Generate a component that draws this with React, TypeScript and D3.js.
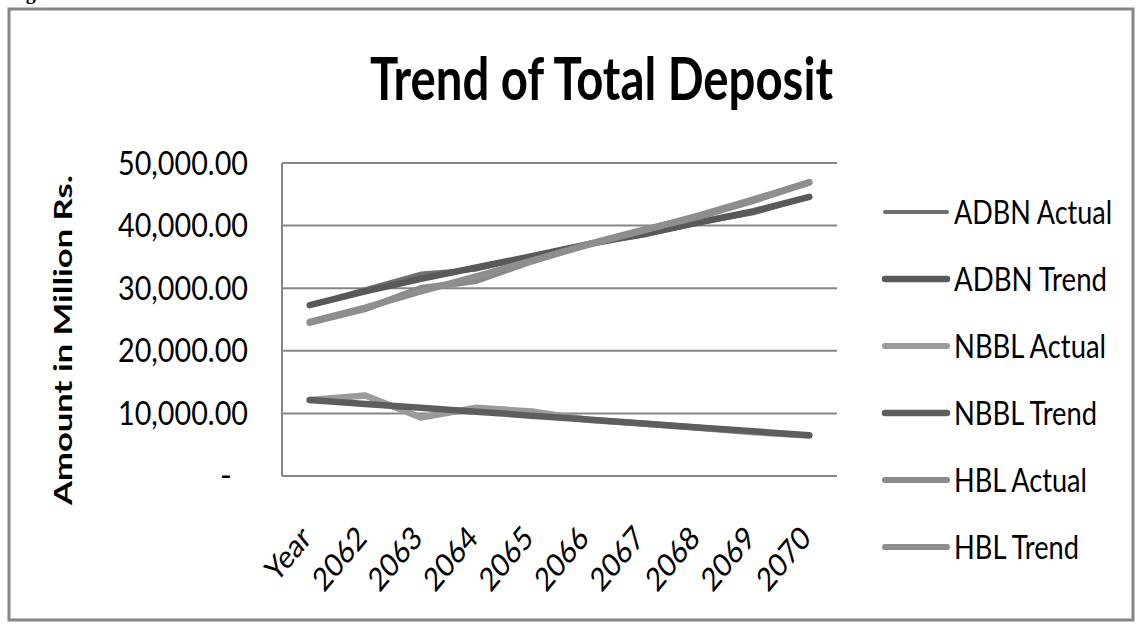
import React from "react";
import * as d3 from "d3";

const categories = ["Year", "2062", "2063", "2064", "2065", "2066", "2067", "2068", "2069", "2070"];
const adbnActual = [27300, 29800, 32300, 33000, 35100, 37100, 38400, 40400, 42000, 44600];
const adbnTrend = [27300, 29500, 31500, 33300, 35100, 37000, 38600, 40500, 42300, 44600];
const nbblActual = [12150, 12850, 9350, 10900, 10300, 9000, 8400, 7700, 7000, 6450];
const nbblTrend = [12150, 11520, 10890, 10270, 9640, 9010, 8380, 7760, 7130, 6500];
const hblActual = [24500, 26700, 30000, 31200, 34300, 37000, 39300, 41400, 44000, 46900];
const hblTrend = [24600, 26900, 29500, 31900, 34400, 36900, 39200, 41600, 44200, 46900];
const seriesNames = ["ADBN Actual", "ADBN Trend", "NBBL Actual", "NBBL Trend", "HBL Actual", "HBL Trend"];
const seriesValues = [adbnActual, adbnTrend, nbblActual, nbblTrend, hblActual, hblTrend];

const seriesStyle: Record<string, { color: string; width: number; legendWidth: number; textW: number }> = {
  "ADBN Actual": { color: "#6f6f6f", width: 4.5, legendWidth: 4, textW: 158 },
  "ADBN Trend": { color: "#595959", width: 6.5, legendWidth: 6.5, textW: 153 },
  "NBBL Actual": { color: "#9b9b9b", width: 6.5, legendWidth: 6, textW: 152 },
  "NBBL Trend": { color: "#5e5e5e", width: 6.5, legendWidth: 6.5, textW: 143 },
  "HBL Actual": { color: "#8a8a8a", width: 6.5, legendWidth: 6, textW: 133 },
  "HBL Trend": { color: "#8e8e8e", width: 6.5, legendWidth: 6, textW: 125 },
};

const W = 1140;
const H = 632;
const plot = { left: 282, right: 837, top: 163, bottom: 476 };
const FONT = "Lato, 'Open Sans', 'Noto Sans', sans-serif";

export default function App() {
  const x = d3.scaleBand<string>().domain(categories).range([plot.left, plot.right]);
  const y = d3.scaleLinear().domain([0, 50000]).range([plot.bottom, plot.top]);
  const cx = (c: string) => (x(c) as number) + x.bandwidth() / 2;
  const ticks = y.ticks(5);
  const fmt = d3.format(",.2f");
  const line = d3
    .line<number>()
    .x((_, i) => cx(categories[i]))
    .y((v) => y(v));

  return (
    <svg
      width={W}
      height={H}
      style={{ position: "absolute", left: 0, top: 0, background: "#fff" }}
      fontFamily={FONT}
    >
      <rect x={0} y={0} width={W} height={H} fill="#fff" />
      <text x={8} y={-1} fontFamily="'Liberation Serif', serif" fontWeight="bold" fontSize={20} fill="#000">
        Figure 4
      </text>
      <rect x={9} y={9} width={1124} height={611} fill="none" stroke="#868686" strokeWidth={3} />

      <text x={370} y={100} fontSize={60} fontWeight="bold" textLength={463} lengthAdjust="spacingAndGlyphs" fill="#000">
        Trend of Total Deposit
      </text>

      {ticks.map((t) => (
        <line key={"g" + t} x1={plot.left} x2={plot.right} y1={y(t)} y2={y(t)} stroke="#868686" strokeWidth={2} />
      ))}
      <line x1={plot.left} x2={plot.left} y1={plot.top} y2={plot.bottom} stroke="#868686" strokeWidth={2} />

      {ticks.map((t) =>
        t === 0 ? (
          <text key={"t" + t} x={232} y={y(t) + 11} fontSize={32} textAnchor="end" fill="#000">
            -
          </text>
        ) : (
          <text
            key={"t" + t}
            x={248}
            y={y(t) + 11.5}
            fontSize={32}
            textAnchor="end"
            textLength={130}
            lengthAdjust="spacingAndGlyphs"
            fill="#000"
          >
            {fmt(t)}
          </text>
        )
      )}

      <text
        transform="translate(72,340) rotate(-90)"
        fontSize={24}
        fontWeight="bold"
        textAnchor="middle"
        textLength={330}
        lengthAdjust="spacingAndGlyphs"
        fill="#000"
      >
        Amount in Million Rs.
      </text>

      {categories.map((c) => (
        <text
          key={c}
          transform={`translate(${cx(c) + 3},540) scale(1,1.2) rotate(-45)`}
          fontSize={27}
          textAnchor="end"
          fill="#000"
        >
          {c}
        </text>
      ))}

      {seriesNames.map((n, i) => (
        <path
          key={n}
          d={line(seriesValues[i]) || ""}
          fill="none"
          stroke={seriesStyle[n].color}
          strokeWidth={seriesStyle[n].width}
          strokeLinecap="round"
          strokeLinejoin="round"
        />
      ))}

      {seriesNames.map((n, i) => {
        const ly = 212 + i * 67;
        const s = seriesStyle[n];
        return (
          <g key={"l" + n}>
            <line x1={885} x2={947} y1={ly} y2={ly} stroke={s.color} strokeWidth={s.legendWidth} strokeLinecap="round" />
            <text
              x={954}
              y={ly + 11.5}
              fontSize={32}
              textLength={s.textW}
              lengthAdjust="spacingAndGlyphs"
              fill="#000"
            >
              {n}
            </text>
          </g>
        );
      })}
    </svg>
  );
}
